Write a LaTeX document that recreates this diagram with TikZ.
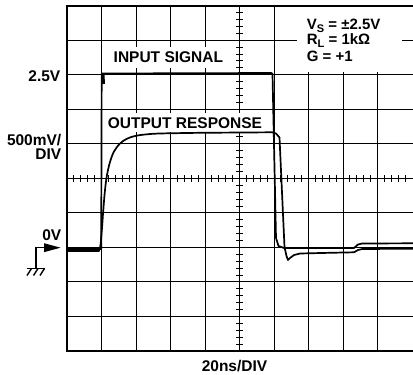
\documentclass[tikz,border=0pt]{standalone}
\usepackage{fontspec}
\setmainfont{Liberation Sans}
\newcommand{\lblfont}{\bfseries\fontsize{15.5}{14}\selectfont}
\newcommand{\legfont}{\bfseries\fontsize{15}{15}\selectfont}
\newcommand{\subfnt}[1]{\raisebox{-3pt}{\fontsize{11}{11}\selectfont #1}}
\begin{document}
\begin{tikzpicture}[x=1pt,y=-1pt,
  gridline/.style={line width=0.9pt},
  frame/.style={line width=2pt},
  trace/.style={line width=1.7pt, line join=round, line cap=round},
  lbl/.style={font=\lblfont, inner sep=0pt},
  leg/.style={font=\legfont, inner sep=0pt, anchor=base west},
  gnd/.style={line width=1.4pt}]
\useasboundingbox (0,0) rectangle (413,375);
% grid
\foreach \i in {1,...,9} {
  \draw[gridline] ({67+34.5*\i},5.7) -- ({67+34.5*\i},351);
  \draw[gridline] (67,{5.7+34.53*\i}) -- (414,{5.7+34.53*\i});
}
% ticks on centre lines
\foreach \k in {1,...,49} {
  \draw[gridline] ({67+6.9*\k},174.8) -- ({67+6.9*\k},181.9);
  \draw[gridline] (236.2,{5.7+6.906*\k}) -- (242.8,{5.7+6.906*\k});
}
% frame
\draw[frame] (67,5.7) rectangle (414,351);
% white label boxes
\node[lbl, anchor=base, fill=white, inner xsep=4pt, inner ysep=5pt] (insig) at (168.4,62.7) {INPUT SIGNAL};
\node[lbl, anchor=base, fill=white, inner xsep=3pt, inner ysep=4pt] (outresp) at (185,128.3) {OUTPUT RESPONSE};
\fill[white] (297,7) rectangle (402,72);
\node[leg] (vs) at (306.7,29.3) {V\subfnt{S} = ±2.5V};
\node[leg] (rl) at (306.7,44.3) {R\subfnt{L} = 1kΩ};
\node[leg] (g) at (306.7,61) {G = +1};
% traces
\draw[trace] (67,249) -- (101.2,249) -- (101.7,73.5) -- (271.5,73) -- (272.5,74) -- (276,238) -- (278.5,246) -- (284,248) -- (354,248) -- (358,244.5) -- (362,243.5) -- (414,243.3);
\draw[line width=2.6pt] (103.3,75) -- (103.6,84);
\draw[trace] (67,251) -- (99,251)
  plot[smooth, tension=0.55] coordinates {(99,251) (100.5,245) (102,228) (103.3,210) (105,190) (107,175) (110,162) (114,151.5) (120,143.5) (127,138.7) (135,136) (145,134.5) (160,133.5) (200,132.8)}
  -- (272,132.3) -- (276,133.5) -- (279.5,137.5) -- (284.5,247) -- (286.5,256) -- (288,260) -- (290,258) -- (294,255) -- (300,253.5) -- (330,252.8) -- (354,252.3) -- (358,250) -- (362,249) -- (414,248.7);
% axis labels
\node[lbl, anchor=base east] (v25) at (60.5,81) {2.5V};
\node[lbl, anchor=base east] (div1) at (61.5,145.5) {500mV/};
\node[lbl, anchor=base east] (div2) at (61.5,159.5) {DIV};
\node[lbl, anchor=base east] (zero) at (61.5,240.7) {0V};
\node[lbl, anchor=base] (tdiv) at (234.5,371.7) {20ns/DIV};
% ground marker
\coordinate (gtop) at (36,247.7);
\coordinate (gbot) at (36,268.5);
\draw[gnd] (gbot) -- (gtop) -- (46,247.7);
\fill (60.5,247.7) -- (44,243.2) -- (44,252.2) -- cycle;
\draw[gnd] (26.5,268.5) -- (45,268.5);
\draw[gnd] (31.5,268.5) -- (27,275.5);
\draw[gnd] (38,268.5) -- (33.5,275.5);
\draw[gnd] (44.5,268.5) -- (40,275.5);
\end{tikzpicture}
\end{document}
